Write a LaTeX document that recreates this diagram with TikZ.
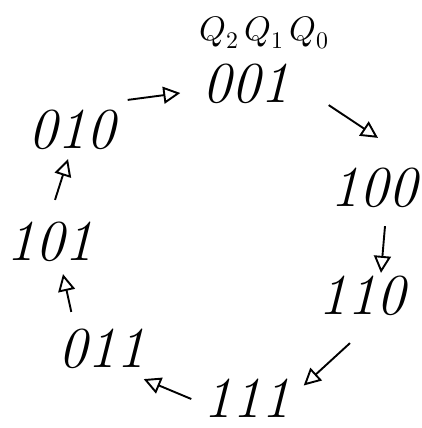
\documentclass[tikz,border=0pt]{standalone}
\usepackage{unicode-math}
\usetikzlibrary{arrows.meta}

\tikzset{
  state/.style={inner sep=0pt, font=\fontsize{58}{58}\selectfont\itshape},
  arr/.style={line width=1.9pt, -{Triangle[open, length=17pt, width=17pt]}}
}

\begin{document}
\begin{tikzpicture}[x=1pt, y=-1pt]
  \useasboundingbox (0,0) rectangle (421,428);

  \node[inner sep=0pt, font=\fontsize{34}{34}\selectfont] (hdr) at (264,33) {$Q_2\,Q_1\,Q_0$};

  \node[state] (s001) at (246,84)  {001};
  \node[state] (s100) at (374,188) {100};
  \node[state] (s110) at (362,296) {110};
  \node[state] (s111) at (247,398) {111};
  \node[state] (s011) at (102,349) {011};
  \node[state] (s101) at (50,242)  {101};
  \node[state] (s010) at (72,130)  {010};

  \draw[arr] ([shift={(12,-10)}]s010.north east) -- ([shift={(-22,9)}]s001.west);
  \draw[arr] ([shift={(39,1)}]s001.south east)   -- ([shift={(4,-30)}]s100.north);
  \draw[arr] ([shift={(11,18)}]s100.south)       -- ([shift={(19,-3)}]s110.north);
  \draw[arr] ([shift={(-12,27)}]s110.south)      -- ([shift={(13,7)}]s111.north east);
  \draw[arr] ([shift={(-12,1)}]s111.west)        -- ([shift={(-2,10)}]s011.south east);
  \draw[arr] ([shift={(13,-17)}]s011.north west) -- ([shift={(13,12)}]s101.south);
  \draw[arr] ([shift={(5,-22)}]s101.north)       -- ([shift={(-4,9)}]s010.south);

\end{tikzpicture}
\end{document}
